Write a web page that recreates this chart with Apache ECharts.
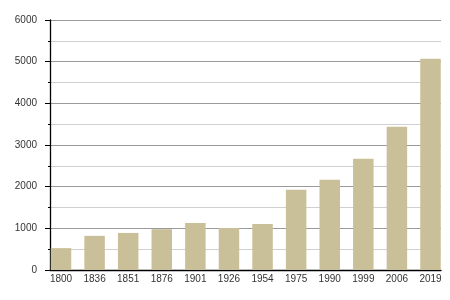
<!DOCTYPE html>
<html>
<head>
<meta charset="utf-8">
<script src="https://cdn.jsdelivr.net/npm/echarts@6/dist/echarts.min.js"></script>
<style>html,body{margin:0;padding:0;background:#fff;}#c{width:450px;height:300px;}</style>
</head>
<body>
<div id="c"></div>
<script>
var years = ['1800','1836','1851','1876','1901','1926','1954','1975','1990','1999','2006','2019'];
var population = [525, 820, 890, 980, 1130, 1010, 1105, 1925, 2165, 2670, 3440, 5070];
var yTicks = [0, 1000, 2000, 3000, 4000, 5000, 6000];

var chart = echarts.init(document.getElementById('c'), null, {renderer: 'canvas'});
var font = 'Liberation Sans, Arial, Helvetica, sans-serif';
chart.setOption({
  animation: false,
  backgroundColor: '#ffffff',
  grid: [
    {left: 50, right: 9, top: 20, bottom: 30},
    {left: 61, right: 19.5, top: 20, bottom: 30}
  ],
  xAxis: [
    {gridIndex: 0, type: 'value', min: 0, max: 1,
     axisLine: {show: true, lineStyle: {color: '#000', width: 1.3}},
     axisTick: {show: false}, axisLabel: {show: false}, splitLine: {show: false}},
    {gridIndex: 1, type: 'category', data: years, boundaryGap: false,
     axisLine: {show: false}, axisTick: {show: false}, splitLine: {show: false},
     axisLabel: {color: '#333', fontSize: 10, fontFamily: font, margin: 4, interval: 0}}
  ],
  yAxis: [
    {gridIndex: 0, type: 'value', min: yTicks[0], max: yTicks[yTicks.length - 1], interval: 1000,
     axisLine: {show: true, lineStyle: {color: '#000', width: 1.3}},
     axisTick: {show: true, length: 5, lineStyle: {color: '#000', width: 1}},
     minorTick: {show: true, splitNumber: 2, length: 2, lineStyle: {color: '#000', width: 1}},
     splitLine: {show: true, lineStyle: {color: '#9a9a9a', width: 1}},
     minorSplitLine: {show: true, lineStyle: {color: '#d0d0d0', width: 1}},
     axisLabel: {color: '#333', fontSize: 10, fontFamily: font, margin: 13,
                 formatter: function (v) { return String(v); }}},
    {gridIndex: 1, type: 'value', min: 0, max: 6000, show: false,
     splitLine: {show: false}}
  ],
  series: [{
    type: 'bar',
    xAxisIndex: 1, yAxisIndex: 1,
    data: population,
    barWidth: 20.5,
    itemStyle: {color: '#c9bf99'},
    z: 3
  }]
});
</script>
</body>
</html>
